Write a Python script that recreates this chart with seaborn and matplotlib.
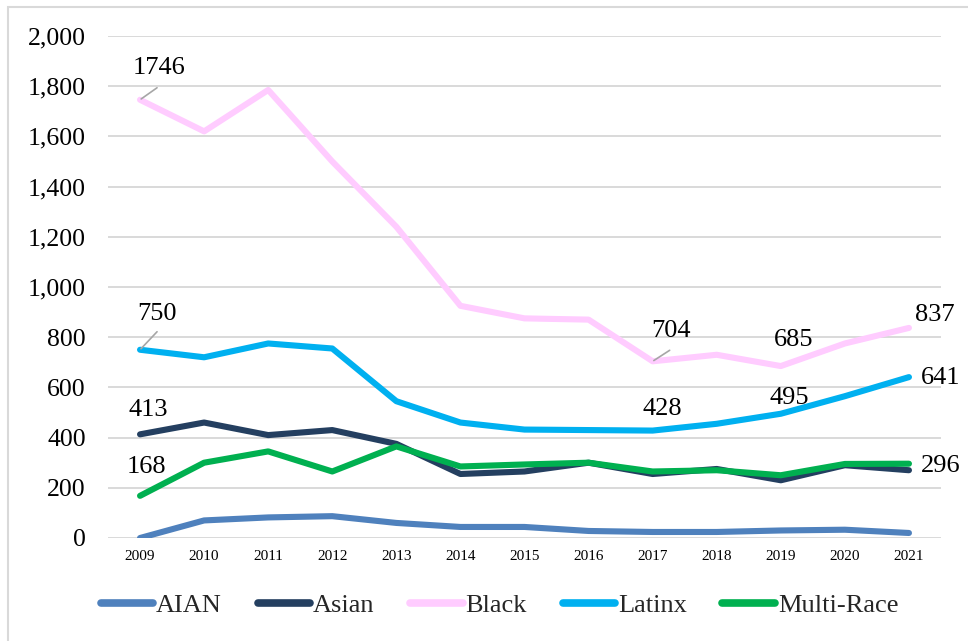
import matplotlib
matplotlib.use("Agg")
import matplotlib.pyplot as plt
from matplotlib.patches import Rectangle
from matplotlib.lines import Line2D
from matplotlib.ticker import FuncFormatter
import pandas as pd
import seaborn as sns

years = [2009, 2010, 2011, 2012, 2013, 2014, 2015, 2016, 2017, 2018, 2019, 2020, 2021]
aian = [0, 70, 82, 87, 60, 44, 44, 28, 24, 24, 30, 33, 20]
asian = [413, 460, 410, 430, 375, 255, 265, 300, 255, 275, 230, 290, 270]
black = [1746, 1620, 1785, 1500, 1240, 925, 875, 870, 704, 730, 685, 775, 837]
latinx = [750, 720, 775, 755, 545, 460, 432, 430, 428, 455, 495, 565, 641]
multi_race = [168, 300, 345, 265, 365, 285, 293, 300, 265, 270, 250, 295, 296]

groups = ["AIAN", "Asian", "Black", "Latinx", "Multi-Race"]
colors = ["#4F81BD", "#243F60", "#FFCCFF", "#00B0F0", "#00B050"]
series = [aian, asian, black, latinx, multi_race]

# long-form table for seaborn
df = pd.DataFrame({
    "Year": years * len(groups),
    "Count": [v for s in series for v in s],
    "Group": [g for g in groups for _ in years],
})

sns.set_theme(style="white")
plt.rcParams["font.family"] = ["Liberation Serif", "DejaVu Serif"]

fig = plt.figure(figsize=(9.68, 6.41), dpi=100)
fig.patch.set_facecolor("white")
ax = fig.add_axes([108 / 968, 1 - 538 / 641, 833 / 968, 502 / 641])

sns.lineplot(data=df, x="Year", y="Count", hue="Group", hue_order=groups,
             palette=colors, linewidth=4.4, legend=False, ax=ax, sort=False)
for ln in ax.lines:
    ln.set_solid_capstyle("round")
    ln.set_solid_joinstyle("round")

ax.set_xlim(2008.5, 2021.5)
ax.set_ylim(0, 2000)
ax.set_yticks(range(0, 2001, 200))
ax.yaxis.set_major_formatter(FuncFormatter(lambda v, p: f"{int(v):,}"))
ax.set_xticks(years)
ax.set_xticklabels([str(y) for y in years])
ax.set_xlabel("")
ax.set_ylabel("")
for sp in ax.spines.values():
    sp.set_visible(False)
ax.grid(axis="y", color="#D9D9D9", linewidth=1.4)
ax.grid(axis="x", visible=False)
ax.set_axisbelow(True)
ax.tick_params(axis="y", length=0, pad=16, labelsize=18.5, labelcolor="black")
ax.tick_params(axis="x", length=0, pad=9, labelsize=11, labelcolor="black")

# data labels: (series, year, text offset px, leader end offset px or None)
labels = [
    (black, 2009, (19, 32), (17, 12)),
    (latinx, 2009, (17, 36), (17, 18)),
    (asian, 2009, (8, 24), None),
    (multi_race, 2009, (6, 29), None),
    (black, 2017, (18, 30), (17, 11)),
    (black, 2019, (13, 26), None),
    (latinx, 2017, (10, 22), None),
    (latinx, 2019, (8, 16), None),
    (black, 2021, (26, 13), None),
    (latinx, 2021, (32, -1), None),
    (multi_race, 2021, (32, -2), None),
]
for s, yr, toff, lead in labels:
    val = s[years.index(yr)]
    ax.annotate(f"{val}", xy=(yr, val), xytext=toff, textcoords="offset pixels",
                ha="center", va="center", fontsize=19, color="black")
    if lead is not None:
        ax.annotate("", xy=(yr, val), xytext=lead, textcoords="offset pixels",
                    arrowprops=dict(arrowstyle="-", color="#A6A6A6", lw=1.2,
                                    shrinkA=0, shrinkB=1))

handles = [Line2D([0], [0], color=c, lw=5.5, solid_capstyle="round") for c in colors]
fig.legend(handles, groups, loc="center", bbox_to_anchor=(0.516, 1 - 605 / 641),
           ncol=5, frameon=False, fontsize=19, handlelength=2.0,
           handletextpad=0.1, columnspacing=1.35)

# outer chart frame
fig.patches.append(Rectangle((8 / 968, -0.1), 1.2, 1.1 - 7 / 641,
                             transform=fig.transFigure, fill=False,
                             edgecolor="#D9D9D9", linewidth=1.5))

fig.savefig("out.png", dpi=100)
